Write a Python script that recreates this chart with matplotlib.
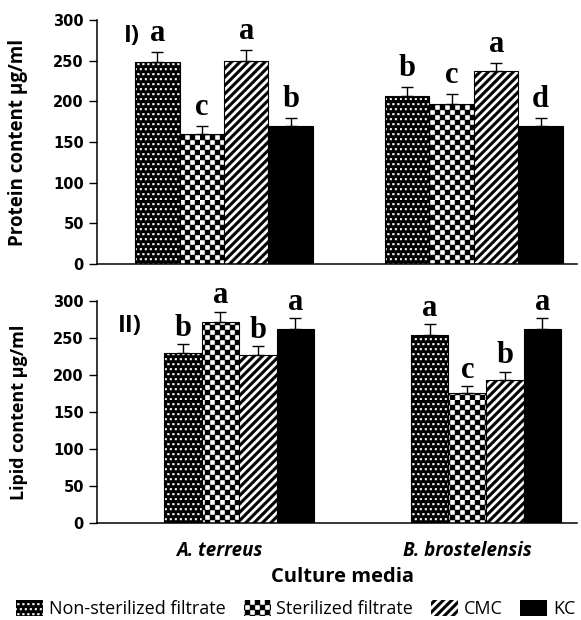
import warnings
import numpy as np
import matplotlib
matplotlib.use('Agg')
import matplotlib.pyplot as plt
from matplotlib import hatch as mhatch
from matplotlib.path import Path

warnings.filterwarnings('ignore')

species = ['A. terreus', 'B. brostelensis']
media = ['Non-sterilized filtrate', 'Sterilized filtrate', 'CMC', 'KC']

# rows = species, columns = media
protein = [[248, 160, 250, 170], [207, 197, 237, 170]]
protein_err = [[13, 10, 13, 10], [11, 12, 10, 10]]
protein_letters = [['a', 'c', 'a', 'b'], ['b', 'c', 'a', 'd']]

lipid = [[230, 272, 227, 263], [255, 176, 193, 263]]
lipid_err = [[12, 14, 12, 14], [14, 9, 12, 14]]
lipid_letters = [['b', 'a', 'b', 'a'], ['a', 'c', 'b', 'a']]

yticks = [0, 50, 100, 150, 200, 250, 300]

plt.rcParams['hatch.linewidth'] = 0.3


def square(vertices, codes, k, x0, y0, w, h):
    vertices[k:k + 5] = [(x0, y0), (x0 + w, y0), (x0 + w, y0 + h), (x0, y0 + h), (x0, y0)]
    codes[k:k + 5] = [Path.MOVETO, Path.LINETO, Path.LINETO, Path.LINETO, Path.CLOSEPOLY]


# checkerboard hatch, character 'c'
class CheckerHatch(mhatch.HatchPatternBase):
    def __init__(self, hatch, density):
        self.n = hatch.count('c') * 10
        self.num_vertices = 2 * self.n * self.n * 5

    def set_vertices_and_codes(self, vertices, codes):
        s = 1.0 / (2 * self.n)
        k = 0
        for i in range(2 * self.n):
            for j in range(2 * self.n):
                if (i + j) % 2 == 0:
                    square(vertices, codes, k, i * s, j * s, s, s)
                    k += 5


# small square dots on a staggered grid, character 'd'
class DotHatch(mhatch.HatchPatternBase):
    def __init__(self, hatch, density):
        self.n = hatch.count('d') * 20
        self.num_vertices = self.n * self.n * 5

    def set_vertices_and_codes(self, vertices, codes):
        p = 1.0 / self.n
        d = 0.017
        k = 0
        for i in range(self.n):
            for j in range(self.n):
                off = (p / 2) if j % 2 else 0
                square(vertices, codes, k, (i * p + off) % 1.0, j * p, d, d)
                k += 5


# thick diagonal bands, character 's'
class StripeHatch(mhatch.HatchPatternBase):
    def __init__(self, hatch, density):
        self.n = hatch.count('s') * 12
        self.num_vertices = (2 * self.n + 2) * 5 if self.n else 0

    def set_vertices_and_codes(self, vertices, codes):
        t = 0.45 / self.n
        k = 0
        for i in range(-self.n - 1, self.n + 1):
            c = i / self.n
            vertices[k:k + 5] = [(c, 0), (c + t, 0), (c + t + 1, 1), (c + 1, 1), (c, 0)]
            codes[k:k + 5] = [Path.MOVETO, Path.LINETO, Path.LINETO, Path.LINETO,
                              Path.CLOSEPOLY]
            k += 5


mhatch._hatch_types.extend([CheckerHatch, DotHatch, StripeHatch])

styles = [
    dict(facecolor='black', edgecolor='white', hatch='d'),
    dict(facecolor='white', edgecolor='black', hatch='c'),
    dict(facecolor='white', edgecolor='black', hatch='s'),
    dict(facecolor='black', edgecolor='black'),
]

sans = ['Open Sans', 'DejaVu Sans']


def draw_panel(ax, vals, errs, letters, width, pad, tag, tag_xy):
    x = np.arange(len(species))
    for k, name in enumerate(media):
        pos = x + (k - 1.5) * width
        v = [row[k] for row in vals]
        e = [row[k] for row in errs]
        ax.bar(pos, v, width, label=name, linewidth=0, **styles[k])
        ax.bar(pos, v, width, fill=False, edgecolor='black', linewidth=0.8)
        ax.errorbar(pos, v, yerr=[np.zeros(len(e)), e], fmt='none', ecolor='black',
                    elinewidth=1, capsize=4, capthick=1)
        for p, vv, ee, lab in zip(pos, v, e, [row[k] for row in letters]):
            ax.annotate(lab, (p, vv + ee), xytext=(0, pad), textcoords='offset points',
                        ha='center', va='baseline', fontsize=22, fontweight='bold',
                        family='Liberation Serif')
    ax.set_ylim(0, 300)
    ax.set_yticks(yticks)
    ax.set_xticks([])
    for s in ['top', 'right']:
        ax.spines[s].set_visible(False)
    for s in ['left', 'bottom']:
        ax.spines[s].set_linewidth(1.1)
    ax.tick_params(axis='y', direction='out', length=5.5, width=1, pad=4)
    for t in ax.get_yticklabels():
        t.set_fontfamily('DejaVu Sans')
        t.set_fontweight('bold')
        t.set_fontsize(10.5)
    ax.text(tag_xy[0], tag_xy[1], tag, transform=ax.transAxes, ha='left', va='baseline',
            fontsize=17, fontweight='bold', family=sans)


fig = plt.figure(figsize=(5.81, 6.2), dpi=100)

ax1 = fig.add_axes([0.167, 0.574, 0.826, 0.3935])
draw_panel(ax1, protein, protein_err, protein_letters, 0.178, 8, 'I)', (0.056, 0.91))
ax1.set_xlim(-0.508, 1.412)
ax1.set_ylabel('Protein content µg/ml', family=sans, fontweight='bold', fontsize=13.5)
ax1.yaxis.set_label_coords(-0.144, 0.5)

ax2 = fig.add_axes([0.167, 0.156, 0.826, 0.358])
draw_panel(ax2, lipid, lipid_err, lipid_letters, 0.152, 6, 'II)', (0.044, 0.86))
ax2.set_xlim(-0.575, 1.368)
ax2.set_ylabel('Lipid content µg/ml', family=sans, fontweight='bold', fontsize=13)
ax2.yaxis.set_label_coords(-0.144, 0.5)

# species names and axis title
for name, xf in zip(species, [0.377, 0.804]):
    fig.text(xf, 0.111, name, ha='center', va='center', fontsize=13.5,
             fontweight='bold', fontstyle='italic', family=sans)
fig.text(0.590, 0.069, 'Culture media', ha='center', va='center', fontsize=14.5,
         fontweight='bold', family=sans)

handles, labels = ax1.get_legend_handles_labels()
fig.legend(handles, labels, loc='center', bbox_to_anchor=(0.509, 0.018), ncol=4,
           frameon=False, prop={'family': sans, 'size': 13}, handlelength=1.5,
           handleheight=1.0, handletextpad=0.3, columnspacing=1.0, borderaxespad=0,
           borderpad=0)

fig.savefig('out.png', dpi=100)
